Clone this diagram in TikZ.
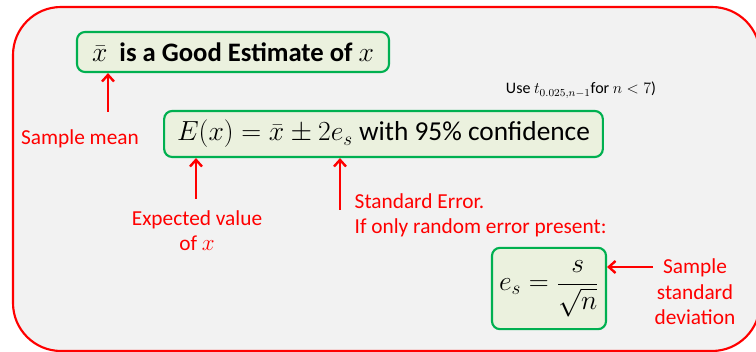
\documentclass[tikz,border=0pt]{standalone}
\usepackage{fontspec}
\setmainfont{Carlito}
\usepackage{tikz}
\usetikzlibrary{arrows.meta,positioning}
\definecolor{boxgreen}{HTML}{00B050}
\definecolor{boxfill}{HTML}{EBF1DE}
\definecolor{panelgray}{HTML}{F2F2F2}
\begin{document}
\begin{tikzpicture}[x=0.75pt,y=-0.75pt,font=\fontsize{16}{19}\selectfont,
 box/.style={draw=boxgreen,fill=boxfill,line width=1.6pt,rounded corners=6pt,inner sep=0pt},
 note/.style={text=red,align=center},
 ptr/.style={-{Straight Barb[length=5pt,width=9pt]},draw=red,line width=1.8pt}]
\useasboundingbox (0,0) rectangle (756,352);
\clip (0,0) rectangle (756,352);
\draw[red,fill=panelgray,line width=1.6pt,rounded corners=36pt] (13,7) rectangle (760,351);
% boxes
\node[box,minimum width=234pt,minimum height=30pt] (b1) at (233,52)
 {\fontsize{20}{24}\selectfont\bfseries $\bar{x}$\ \ is a Good Estimate of $x$};
\node[box,minimum width=329pt,minimum height=34.5pt] (b2) at (383.5,134)
 {\fontsize{20.5}{24}\selectfont $E(x)=\bar{x}\pm 2e_s$ with 95\% confidence};
\node[box,minimum width=85.5pt,minimum height=61pt] (b3) at (549,288.5)
 {\fontsize{20.5}{24}\selectfont $\displaystyle e_s=\frac{s}{\sqrt{n}}$};
\node (use) at (581,90) {\fontsize{12}{14}\selectfont Use $t_{0.025,n-1}$for $n<7$)};
% labels
\node[note] (smean) at (80,139) {Sample mean};
\node[note] (expv) at (197,230.5) {Expected value\\of $x$};
\node[note,align=left,anchor=west] (stderr) at (350,215.5) {Standard Error.\\If only random error present:};
\node[note] (ssd) at (695,292) {Sample\\standard\\deviation};
% pointers
\coordinate (p1) at (108,112);
\coordinate (p2) at (196,199);
\coordinate (p3) at (340,210);
\coordinate (p4) at (653,267);
\draw[ptr] (p1) -- (p1 |- b1.south);
\draw[ptr] (p2) -- (p2 |- b2.south);
\draw[ptr] (p3) -- (p3 |- b2.south);
\draw[ptr] (p4) -- (p4 -| b3.east);
\end{tikzpicture}
\end{document}
